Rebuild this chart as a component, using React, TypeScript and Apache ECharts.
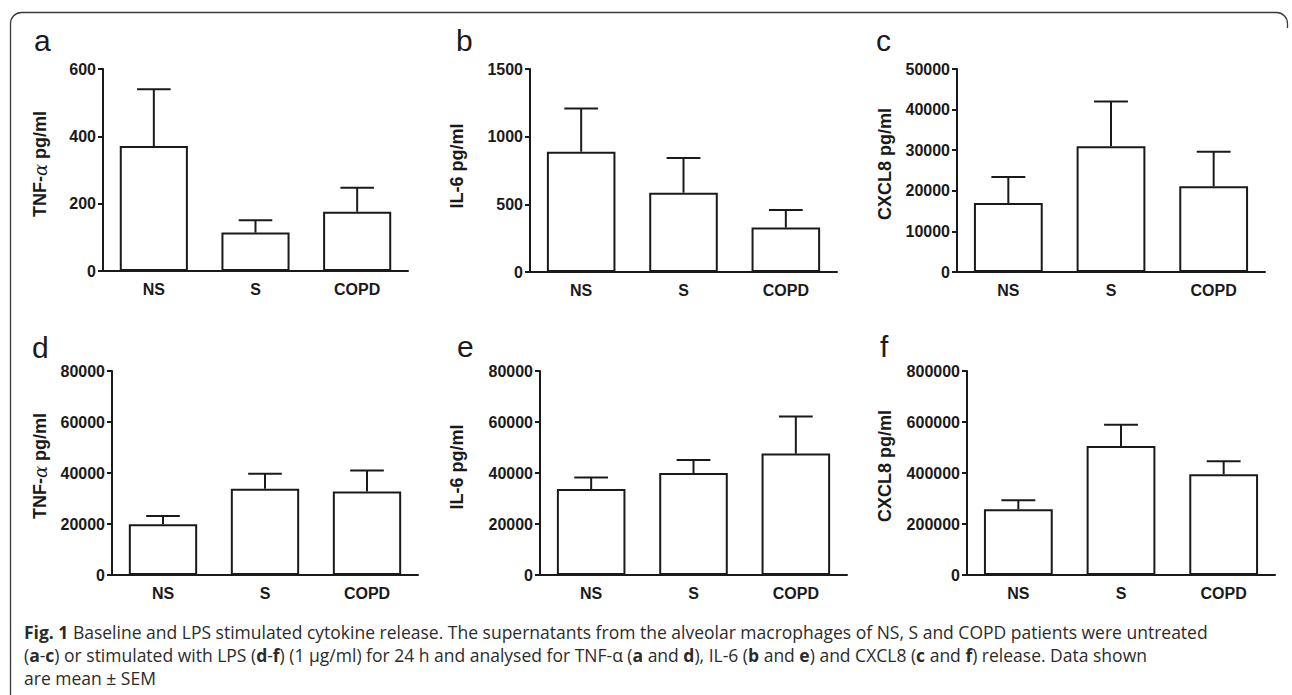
import React, { useEffect, useRef } from "react";
import * as echarts from "echarts";

const categories = ["NS", "S", "COPD"];

// Means and SEM (upper whisker length)
const tnfBaseMean = [371, 114, 176];
const tnfBaseSem = [169, 37, 71];
const il6BaseMean = [889, 586, 328];
const il6BaseSem = [320, 256, 130];
const cxcl8BaseMean = [17000, 31000, 21100];
const cxcl8BaseSem = [6400, 11000, 8500];
const tnfLpsMean = [19900, 33800, 32700];
const tnfLpsSem = [3200, 5900, 8300];
const il6LpsMean = [33700, 40000, 47600];
const il6LpsSem = [4500, 5100, 14600];
const cxcl8LpsMean = [258000, 506000, 395000];
const cxcl8LpsSem = [35000, 83000, 51000];

const yMax = [600, 1500, 50000, 80000, 80000, 800000];
const yInterval = [200, 500, 10000, 20000, 20000, 200000];
const panelLetters = ["a", "b", "c", "d", "e", "f"];
const yTitles = ["TNF-{al|α} pg/ml", "IL-6 pg/ml", "CXCL8 pg/ml", "TNF-{al|α} pg/ml", "IL-6 pg/ml", "CXCL8 pg/ml"];

const captionLine1 =
  "{b|Fig. 1} Baseline and LPS stimulated cytokine release. The supernatants from the alveolar macrophages of NS, S and COPD patients were untreated";
const captionLine2 =
  "({b|a}-{b|c}) or stimulated with LPS ({b|d}-{b|f}) (1 µg/ml) for 24 h and analysed for TNF-α ({b|a} and {b|d}), IL-6 ({b|b} and {b|e}) and CXCL8 ({b|c} and {b|f}) release. Data shown";
const captionLine3 = "are mean ± SEM";

const means = [tnfBaseMean, il6BaseMean, cxcl8BaseMean, tnfLpsMean, il6LpsMean, cxcl8LpsMean];
const sems = [tnfBaseSem, il6BaseSem, cxcl8BaseSem, tnfLpsSem, il6LpsSem, cxcl8LpsSem];

// layout (pixels)
const grids = [
  { left: 103, top: 69, width: 305, height: 202 },
  { left: 530, top: 69, width: 307, height: 203 },
  { left: 957, top: 69, width: 308, height: 203 },
  { left: 112, top: 371, width: 306, height: 204 },
  { left: 540, top: 371, width: 307, height: 204 },
  { left: 967, top: 371, width: 308, height: 204 },
];
const letterPos = [
  [34, 55], [456, 55], [876, 55],
  [32, 362], [457, 361], [880, 361],
];
const titlePos = [
  [40, 164], [457, 166], [885, 164],
  [40, 466], [457, 467], [885, 466],
];

const INK = "#1a1a1a";
const FONT = "Liberation Sans";
const CAP_FONT = "Open Sans";
const CAP_SIZE = 17.5;

export default function App() {
  const ref = useRef<HTMLDivElement>(null);
  useEffect(() => {
    if (!ref.current) return;
    const chart = echarts.init(ref.current, undefined, { renderer: "svg" });

    const xAxis: any[] = [];
    const yAxis: any[] = [];
    const series: any[] = [];
    grids.forEach((g, i) => {
      xAxis.push({
        type: "category",
        gridIndex: i,
        data: categories,
        axisLine: { lineStyle: { color: INK, width: 2 } },
        axisTick: { alignWithLabel: true, length: 4, lineStyle: { color: INK, width: 2 } },
        axisLabel: { color: INK, fontFamily: FONT, fontWeight: "bold", fontSize: 16, margin: 10 },
        splitLine: { show: false },
      });
      yAxis.push({
        type: "value",
        gridIndex: i,
        min: 0,
        max: yMax[i],
        interval: yInterval[i],
        axisLine: { show: true, lineStyle: { color: INK, width: 2 } },
        axisTick: { show: true, length: 5, lineStyle: { color: INK, width: 2 } },
        axisLabel: {
          color: INK,
          fontFamily: FONT,
          fontWeight: "bold",
          fontSize: 16,
          margin: 7,
          formatter: (v: number) => String(v),
        },
        splitLine: { show: false },
      });
      series.push({
        type: "bar",
        xAxisIndex: i,
        yAxisIndex: i,
        data: means[i],
        barWidth: "67%",
        itemStyle: { color: "#ffffff", borderColor: INK, borderWidth: 2 },
        z: 2,
      });
      series.push({
        type: "custom",
        xAxisIndex: i,
        yAxisIndex: i,
        z: 3,
        data: means[i].map((m, k) => [k, m, sems[i][k]]),
        renderItem: (params: any, api: any) => {
          const x = api.value(0);
          const m = api.value(1);
          const s = api.value(2);
          const base = api.coord([x, m]);
          const top = api.coord([x, m + s]);
          const half = api.size([1, 0])[0] * 0.165;
          const st = { stroke: INK, lineWidth: 2, fill: "none" };
          return {
            type: "group",
            children: [
              { type: "line", shape: { x1: base[0], y1: base[1], x2: top[0], y2: top[1] }, style: st },
              { type: "line", shape: { x1: top[0] - half, y1: top[1], x2: top[0] + half, y2: top[1] }, style: st },
            ],
          };
        },
      });
    });

    const graphic: any[] = [
      {
        type: "rect",
        shape: { x: 10.5, y: 12.5, width: 1277, height: 900, r: 11 },
        style: { fill: "none", stroke: "#3a3a3a", lineWidth: 1.3 },
        z: 0,
      },
      {
        type: "rect",
        shape: { x: 1282, y: 28, width: 12, height: 700 },
        style: { fill: "#ffffff" },
        z: 1,
      },
    ];
    panelLetters.forEach((l, i) => {
      graphic.push({
        type: "text",
        x: letterPos[i][0],
        y: letterPos[i][1],
        z: 5,
        style: {
          text: l,
          fontFamily: FONT,
          fontSize: 30,
          fill: INK,
          align: "left",
          verticalAlign: "bottom",
          textAlign: "left",
          textVerticalAlign: "bottom",
        },
      });
      graphic.push({
        type: "text",
        x: titlePos[i][0],
        y: titlePos[i][1],
        rotation: Math.PI / 2,
        z: 5,
        style: {
          text: yTitles[i],
          fontFamily: FONT,
          fontWeight: "bold",
          fontSize: 18,
          fill: INK,
          align: "center",
          verticalAlign: "middle",
          textAlign: "center",
          textVerticalAlign: "middle",
          rich: {
            al: { fontFamily: "DejaVu Serif", fontStyle: "italic", fontWeight: "normal", fontSize: 18, fill: INK },
          },
        },
      });
    });
    const capLines = [captionLine1, captionLine2, captionLine3];
    const capY = [632, 655, 678];
    capLines.forEach((t, k) => {
      graphic.push({
        type: "text",
        x: 24,
        y: capY[k],
        z: 5,
        style: {
          text: t,
          fontFamily: CAP_FONT,
          fontSize: CAP_SIZE,
          lineHeight: 20,
          fill: "#2b2b2b",
          align: "left",
          verticalAlign: "middle",
          textAlign: "left",
          textVerticalAlign: "middle",
          rich: {
            b: { fontFamily: CAP_FONT, fontSize: CAP_SIZE, lineHeight: 20, fontWeight: "bold", fill: "#2b2b2b" },
          },
        },
      });
    });

    chart.setOption({
      animation: false,
      backgroundColor: "#ffffff",
      grid: grids.map((g) => ({ ...g, containLabel: false })),
      xAxis,
      yAxis,
      series,
      graphic,
    });
    return () => chart.dispose();
  }, []);

  return (
    <div
      ref={ref}
      style={{ position: "fixed", left: 0, top: 0, width: 1292, height: 695, background: "#fff" }}
    />
  );
}
